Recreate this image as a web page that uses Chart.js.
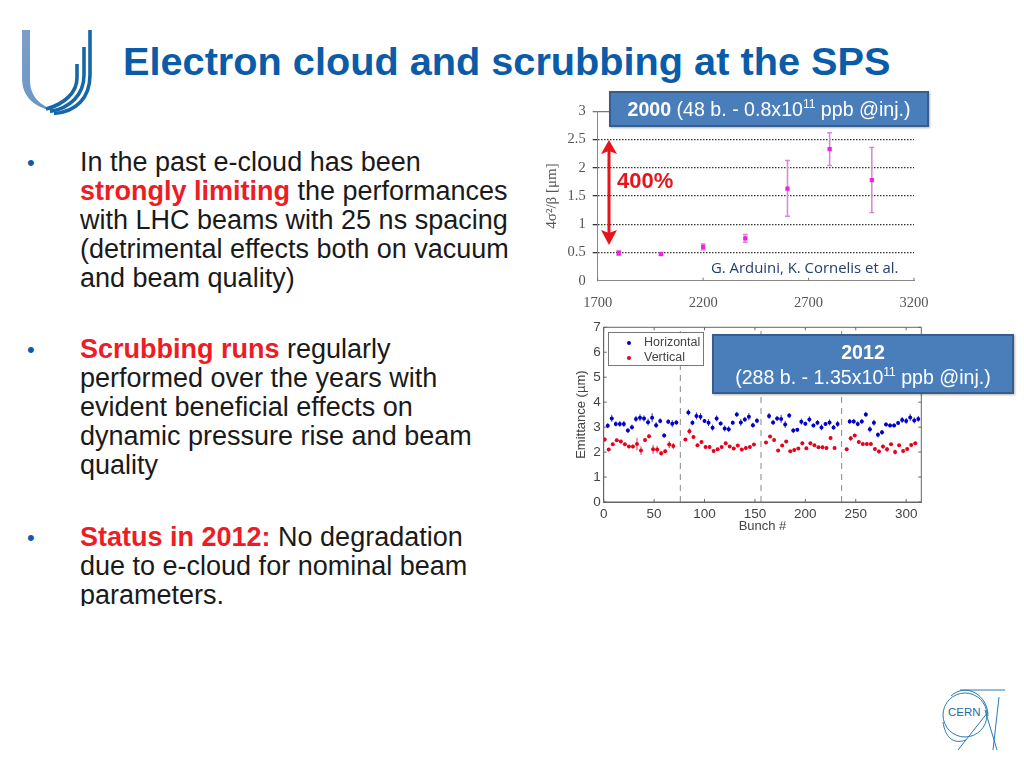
<!DOCTYPE html>
<html>
<head>
<meta charset="utf-8">
<title>Electron cloud and scrubbing at the SPS</title>
<script src="https://cdn.jsdelivr.net/npm/chart.js@4/dist/chart.umd.min.js"></script>
<style>
    html, body { margin: 0; padding: 0; background: #fff; }
    body { position: relative; width: 1024px; height: 768px; overflow: hidden; font-family: "Liberation Sans", Arial, sans-serif; }
    .abs { position: absolute; }
    canvas { position: absolute; filter: blur(0.35px); }
    #title { left: 123px; top: 38px; font-size: 39.7px; line-height: 46px; font-weight: bold; color: #0b5ca8; white-space: nowrap; }
    .bullet { left: 27px; font-size: 22px; line-height: 29.1px; color: #0b5ca8; }
    .para { left: 80px; font-size: 27px; line-height: 29.1px; color: #1a1a1a; white-space: nowrap; overflow: hidden; }
    .para b { color: #ee1c25; }
    .box { box-sizing: border-box; background: #4a7ebb; border: 2px solid #385d8a; color: #fff; text-align: center; font-size: 19.6px; box-shadow: 1px 1px 2px rgba(0,0,0,0.3); }
    .box sup { font-size: 12px; line-height: 0; }
    #legend2 { left: 608px; top: 332px; width: 96px; height: 34px; box-sizing: border-box; background: #fff; border: 1px solid #777; font-size: 12.5px; color: #444; }
    #legend2 span { position: absolute; left: 35px; line-height: 14px; }
    #legend2 i { position: absolute; left: 18px; width: 4px; height: 4px; border-radius: 50%; }
</style>
</head>
<body>
<svg class="abs" style="left:0;top:0" width="1024" height="768">
    <defs>
        <linearGradient id="uleft" x1="0" y1="0" x2="1" y2="1">
            <stop offset="0" stop-color="#7f9dc9"/>
            <stop offset="1" stop-color="#5b93c8"/>
        </linearGradient>
    </defs>
    <path d="M22 30 H30 V80 C30 98 42 108 62 112 C36 110 22 98 22 78 Z" fill="url(#uleft)"/>
    <g fill="none" stroke="#1767a8" stroke-width="3.6">
        <path d="M90 30 V75 C90 98 76 112 54 113.5"/>
        <path d="M84 47 V75 C84 95 70 108 50 111.5"/>
        <path d="M77 64 V78 C77 92 65 104 46 109"/>
    </g>
    <g fill="none" stroke="#2a7ab5" stroke-width="1">
        <circle cx="965" cy="715" r="22"/>
        <path d="M960 690 H1005"/>
        <path d="M999 697 L993 750"/>
        <path d="M958 750 L988 712"/>
        <path d="M985 710 L997 750"/>
        <path d="M951 696 C966 682 988 695 988 716"/>
        <path d="M943 722 C945 736 952 745 966 740"/>
    </g>
    <text x="948" y="716" font-family="Liberation Sans" font-size="11.5" fill="#1f6ba5">CERN</text>
</svg>

<div class="abs" id="title">Electron cloud and scrubbing at the SPS</div>

<div class="abs bullet" style="top:148px">•</div>
<div class="abs para" style="top:148px">In the past e-cloud has been<br><b>strongly limiting</b> the performances<br>with LHC beams with 25 ns spacing<br>(detrimental effects both on vacuum<br>and beam quality)</div>
<div class="abs bullet" style="top:335px">•</div>
<div class="abs para" style="top:335px"><b>Scrubbing runs</b> regularly<br>performed over the years with<br>evident beneficial effects on<br>dynamic pressure rise and beam<br>quality</div>
<div class="abs bullet" style="top:523px">•</div>
<div class="abs para" style="top:523px;height:83px"><b>Status in 2012:</b> No degradation<br>due to e-cloud for nominal beam<br>parameters.</div>

<canvas id="chart2000" width="400" height="225" style="left:530px;top:90px"></canvas>
<canvas id="chart2012" width="370" height="225" style="left:560px;top:315px"></canvas>

<svg class="abs" style="left:0;top:0" width="1024" height="768">
    <g fill="#e8141c">
        <rect x="607.5" y="148" width="3" height="88"/>
        <path d="M609 140 L617 154 L609 151 L601 154 Z"/>
        <path d="M609 245 L617 230 L609 233 L601 230 Z"/>
    </g>
</svg>
<div class="abs" style="left:617px;top:169px;font-size:22px;line-height:24px;font-weight:bold;color:#e8141c">400%</div>
<div class="abs" style="left:711px;top:259px;font-family:'Open Sans';font-size:14.9px;line-height:16px;color:#24406e;white-space:nowrap">G. Arduini, K. Cornelis et al.</div>

<div class="abs box" style="left:609px;top:91px;width:320px;height:36px;line-height:32px"><b>2000</b> (48 b. - 0.8x10<sup>11</sup> ppb @inj.)</div>

<div class="abs" id="legend2">
    <i style="top:8px;background:#0000cc"></i><span style="top:2px">Horizontal</span>
    <i style="top:23px;background:#e8001c"></i><span style="top:17px">Vertical</span>
</div>
<div class="abs box" style="left:712px;top:334px;width:302px;height:60px;line-height:25px;padding-top:4px"><b>2012</b><br>(288 b. - 1.35x10<sup>11</sup> ppb @inj.)</div>

<script>
// 2000 run
const bunches2000 = [1800, 2000, 2200, 2400, 2600, 2800, 3000];
const emit2000 = [0.49, 0.47, 0.60, 0.75, 1.63, 2.33, 1.78];
const low2000 = [0.45, 0.45, 0.55, 0.68, 1.14, 2.04, 1.21];
const high2000 = [0.53, 0.50, 0.65, 0.82, 2.13, 2.62, 2.36];

// 2012 run
const horizX = [4, 8, 12, 16, 20, 24, 28, 32, 36, 40, 44, 48, 52, 56, 60, 64, 68, 72,
    84, 88, 92, 96, 100, 104, 108, 112, 116, 120, 124, 128, 132, 136, 140, 144, 148, 152,
    164, 168, 172, 176, 180, 184, 188, 192, 196, 200, 204, 208, 212, 216, 220, 224, 228, 232,
    244, 248, 252, 256, 260, 264, 268, 272, 276, 280, 284, 288, 292, 296, 300, 304, 308, 312];
const horizY = [3.06, 3.35, 3.13, 3.13, 3.13, 2.86, 3.0, 3.33, 3.38, 3.35, 3.2, 3.38, 3.08, 3.25, 2.66, 3.22, 3.14, 3.19,
    3.59, 3.18, 3.45, 3.42, 3.25, 3.18, 2.98, 3.35, 3.15, 2.95, 2.92, 3.18, 3.51, 3.19, 3.31, 3.42, 3.08, 3.26,
    3.45, 3.19, 3.35, 3.33, 3.11, 3.47, 2.86, 2.89, 3.22, 3.14, 3.31, 3.07, 3.18, 2.99, 3.13, 3.19, 2.99, 3.13,
    3.23, 3.23, 3.13, 3.23, 3.51, 2.91, 3.18, 2.69, 2.79, 3.11, 3.07, 3.07, 3.17, 3.29, 3.25, 3.39, 3.27, 3.33];
const horizErr = [0.1, 0.14, 0.1, 0.12, 0.12, 0.1, 0.1, 0.12, 0.14, 0.12, 0.14, 0.18, 0.12, 0.1, 0.08, 0.1, 0.14, 0.1,
    0.12, 0.1, 0.14, 0.14, 0.08, 0.14, 0.12, 0.12, 0.08, 0.12, 0.12, 0.08, 0.1, 0.14, 0.1, 0.14, 0.1, 0.1,
    0.12, 0.1, 0.1, 0.16, 0.14, 0.1, 0.1, 0.08, 0.12, 0.08, 0.12, 0.08, 0.1, 0.12, 0.08, 0.12, 0.1, 0.12,
    0.1, 0.1, 0.1, 0.1, 0.1, 0.12, 0.12, 0.1, 0.1, 0.08, 0.08, 0.08, 0.08, 0.12, 0.12, 0.14, 0.12, 0.12];
const vertX = [1, 5, 9, 13, 17, 21, 25, 29, 33, 37, 41, 45, 49, 53, 57, 61, 65, 69,
    81, 85, 89, 93, 97, 101, 105, 109, 113, 117, 121, 125, 129, 133, 137, 141, 145, 149,
    161, 165, 169, 173, 177, 181, 185, 189, 193, 197, 201, 205, 209, 213, 217, 221, 225, 229,
    241, 245, 249, 253, 257, 261, 265, 269, 273, 277, 281, 285, 289, 293, 297, 301, 305, 309];
const vertY = [2.5, 2.1, 2.31, 2.47, 2.42, 2.31, 2.22, 2.22, 2.32, 2.06, 2.48, 2.63, 2.11, 2.1, 1.95, 2.03, 2.3, 2.24,
    2.5, 2.83, 2.6, 2.27, 2.4, 2.2, 2.2, 2.04, 2.11, 2.2, 2.35, 2.22, 2.14, 2.26, 2.1, 2.16, 2.2, 2.3,
    2.38, 2.62, 2.48, 2.06, 2.26, 2.42, 2.03, 2.08, 2.14, 2.35, 2.15, 2.35, 2.27, 2.19, 2.19, 2.16, 2.56, 2.16,
    2.11, 2.55, 2.66, 2.4, 2.32, 2.32, 2.32, 2.12, 2.02, 2.22, 2.11, 2.31, 2.0, 2.27, 2.04, 2.12, 2.28, 2.35];
const vertErr = [0.08, 0.06, 0.06, 0.06, 0.08, 0.06, 0.06, 0.08, 0.25, 0.17, 0.08, 0.08, 0.18, 0.15, 0.1, 0.08, 0.14, 0.12,
    0.06, 0.12, 0.08, 0.06, 0.06, 0.08, 0.08, 0.06, 0.06, 0.06, 0.06, 0.06, 0.06, 0.06, 0.06, 0.06, 0.06, 0.06,
    0.06, 0.06, 0.06, 0.06, 0.06, 0.06, 0.06, 0.06, 0.06, 0.08, 0.06, 0.06, 0.06, 0.06, 0.06, 0.06, 0.08, 0.06,
    0.06, 0.1, 0.06, 0.06, 0.06, 0.06, 0.06, 0.06, 0.08, 0.08, 0.1, 0.06, 0.1, 0.06, 0.06, 0.06, 0.08, 0.06];
const batchLines = [76, 156, 236];

const xTicks2012 = [0, 50, 100, 150, 200, 250, 300];
const toPoints = (xs, ys) => xs.map((x, i) => ({ x: x, y: ys[i] }));
const plainTick = (v) => String(v);

Chart.defaults.animation = false;
Chart.defaults.responsive = false;
Chart.defaults.devicePixelRatio = 1;
Chart.defaults.plugins.legend.display = false;
Chart.defaults.plugins.tooltip.enabled = false;

// error bars come from errLow / errHigh on the dataset
const errorBars = {
    id: "errorBars",
    beforeDatasetsDraw(chart) {
        const { ctx, scales } = chart;
        chart.data.datasets.forEach((ds) => {
            if (!ds.errLow) return;
            ctx.save();
            ctx.strokeStyle = ds.errColor;
            ctx.lineWidth = ds.errWidth;
            ds.data.forEach((pt, i) => {
                const px = scales.x.getPixelForValue(pt.x);
                const lo = scales.y.getPixelForValue(ds.errLow[i]);
                const hi = scales.y.getPixelForValue(ds.errHigh[i]);
                ctx.beginPath();
                ctx.moveTo(px, lo);
                ctx.lineTo(px, hi);
                if (ds.errCap) {
                    ctx.moveTo(px - ds.errCap, lo);
                    ctx.lineTo(px + ds.errCap, lo);
                    ctx.moveTo(px - ds.errCap, hi);
                    ctx.lineTo(px + ds.errCap, hi);
                }
                ctx.stroke();
            });
            ctx.restore();
        });
    },
};

// matlab style ticks pointing into the plot, boxed charts also get them on top and right
const innerTicks = {
    id: "innerTicks",
    afterDatasetsDraw(chart, args, opts) {
        const { ctx, chartArea: a, scales } = chart;
        ctx.save();
        ctx.strokeStyle = opts.color;
        ctx.lineWidth = 1;
        ctx.beginPath();
        scales.x.ticks.forEach((t) => {
            const px = scales.x.getPixelForValue(t.value);
            ctx.moveTo(px, a.bottom);
            ctx.lineTo(px, a.bottom - 3);
            if (opts.box) {
                ctx.moveTo(px, a.top);
                ctx.lineTo(px, a.top + 3);
            }
        });
        if (opts.box) {
            scales.y.ticks.forEach((t) => {
                const py = scales.y.getPixelForValue(t.value);
                ctx.moveTo(a.left, py);
                ctx.lineTo(a.left + 3, py);
                ctx.moveTo(a.right, py);
                ctx.lineTo(a.right - 3, py);
            });
            ctx.rect(a.left, a.top, a.right - a.left, a.bottom - a.top);
        }
        ctx.stroke();
        ctx.restore();
    },
};

new Chart(document.getElementById("chart2000"), {
    type: "scatter",
    plugins: [errorBars, innerTicks],
    data: {
        datasets: [{
            data: toPoints(bunches2000, emit2000),
            pointStyle: "rect",
            pointRadius: 3,
            backgroundColor: "#f51fe0",
            borderWidth: 0,
            errLow: low2000,
            errHigh: high2000,
            errColor: "#d886d8",
            errWidth: 1.5,
            errCap: 2.5,
        }],
    },
    options: {
        layout: { padding: { top: 21.3, right: 16, left: 0, bottom: 0 } },
        plugins: { innerTicks: { color: "#777", box: false } },
        scales: {
            x: {
                type: "linear", min: 1700, max: 3200,
                grid: { display: false, drawTicks: false },
                border: { color: "#888" },
                ticks: { stepSize: 500, maxRotation: 0, padding: 14, color: "#555", font: { family: "Liberation Serif", size: 14.5 }, includeBounds: false, callback: plainTick },
                afterFit: (s) => { s.height = 34.3; s.paddingRight = 0; s.paddingLeft = 0; },
            },
            y: {
                min: 0, max: 3,
                grid: {
                    color: (c) => (c.tick && c.tick.value === 0 ? "rgba(0,0,0,0)" : c.tick && c.tick.value === 3 ? "#777" : "#333"),
                    lineWidth: 1.3,
                    tickLength: 5,
                },
                border: { color: "#888", dash: (c) => (c.tick && c.tick.value % 3 !== 0 ? [1.5, 1.5] : []) },
                ticks: { stepSize: 0.5, padding: 7, color: "#555", font: { family: "Liberation Serif", size: 14.5 }, callback: plainTick },
                title: { display: true, text: "4σ²/β [μm]", color: "#555", padding: { top: 13, bottom: 0 }, font: { family: "Liberation Serif", size: 15 } },
                afterFit: (s) => { s.width = 67.7; },
            },
        },
    },
});

new Chart(document.getElementById("chart2012"), {
    type: "scatter",
    plugins: [errorBars, innerTicks],
    data: {
        datasets: batchLines.map((b) => ({
            data: [{ x: b, y: 0 }, { x: b, y: 7 }],
            showLine: true,
            borderColor: "#888",
            borderWidth: 1,
            borderDash: [6, 5],
            pointRadius: 0,
        })).concat([
            {
                label: "Horizontal",
                data: toPoints(horizX, horizY),
                pointRadius: 2,
                backgroundColor: "#0000cc",
                borderWidth: 0,
                errLow: horizY.map((v, i) => v - horizErr[i]),
                errHigh: horizY.map((v, i) => v + horizErr[i]),
                errColor: "#3333cc",
                errWidth: 1,
            },
            {
                label: "Vertical",
                data: toPoints(vertX, vertY),
                pointRadius: 2,
                backgroundColor: "#e8001c",
                borderWidth: 0,
                errLow: vertY.map((v, i) => v - vertErr[i]),
                errHigh: vertY.map((v, i) => v + vertErr[i]),
                errColor: "#e83344",
                errWidth: 1,
            },
        ]),
    },
    options: {
        layout: { padding: { top: 12.3, right: 8.7, left: 0, bottom: 0 } },
        plugins: { innerTicks: { color: "#666", box: true } },
        scales: {
            x: {
                type: "linear", min: 0, max: 315,
                grid: { display: false, drawTicks: false },
                border: { color: "#666" },
                afterBuildTicks: (s) => { s.ticks = xTicks2012.map((v) => ({ value: v })); },
                ticks: { maxRotation: 0, padding: 4, color: "#444", font: { family: "Liberation Sans", size: 13.5 } },
                title: { display: true, text: "Bunch #", color: "#444", padding: { top: 0, bottom: 6 }, font: { family: "Liberation Sans", size: 13 } },
                afterFit: (s) => { s.height = 38; },
            },
            y: {
                min: 0, max: 7,
                grid: { display: false, drawTicks: false },
                border: { color: "#666" },
                ticks: { stepSize: 1, padding: 3, color: "#444", font: { family: "Liberation Sans", size: 13.5 } },
                title: { display: true, text: "Emittance (µm)", color: "#444", padding: { top: 14, bottom: 0 }, font: { family: "Liberation Sans", size: 13 } },
                afterFit: (s) => { s.width = 43.7; },
            },
        },
    },
});
</script>
</body>
</html>
